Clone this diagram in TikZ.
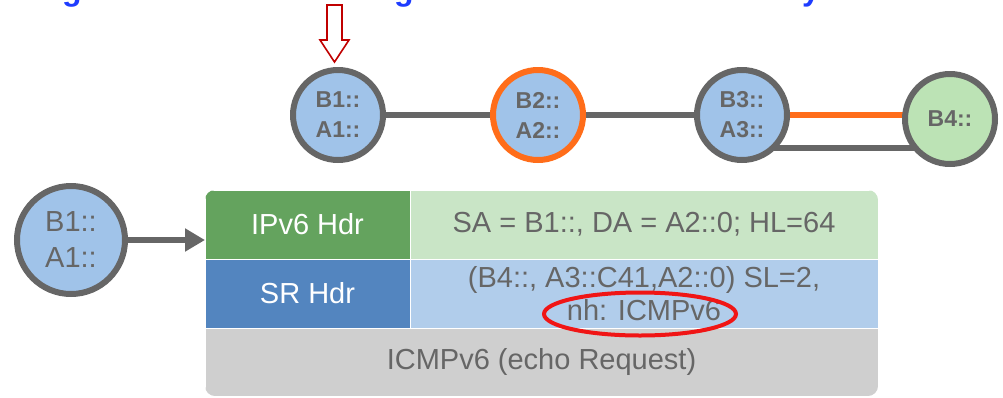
\documentclass[tikz,border=0pt]{standalone}
\usepackage{fontspec}
\setmainfont{Liberation Sans}
\usetikzlibrary{arrows.meta,backgrounds,calc,shapes.geometric}
\definecolor{txtgray}{HTML}{666666}
\definecolor{linkgray}{HTML}{666666}
\definecolor{nodeblue}{HTML}{A0C3E9}
\definecolor{nodegreen}{HTML}{BCE3B5}
\definecolor{linkorange}{HTML}{FF6D1A}
\definecolor{dgreen}{HTML}{64A35E}
\definecolor{lgreen}{HTML}{C9E5C6}
\definecolor{dblue}{HTML}{5385BF}
\definecolor{lblue}{HTML}{B1CDEB}
\definecolor{cgray}{HTML}{CFCFCF}
\definecolor{titleblue}{HTML}{1E3CFF}
\definecolor{darkred}{HTML}{C00000}
\definecolor{markred}{HTML}{F01515}
\begin{document}
\begin{tikzpicture}[x=1pt,y=-1pt,
  topnode/.style={circle, draw=linkgray, line width=6pt, fill=nodeblue, minimum size=90pt, inner sep=0pt,
    font=\fontsize{23}{30}\selectfont\bfseries, text=txtgray, align=center},
  srcnode/.style={circle, draw=linkgray, line width=6pt, fill=nodeblue, minimum size=108pt, inner sep=0pt,
    font=\fontsize{29}{36}\selectfont, text=txtgray, align=center},
  link/.style={draw=linkgray, line width=6pt},
  olink/.style={draw=linkorange, line width=6pt},
  cell/.style={rectangle, draw=white, line width=1pt, inner sep=0pt, outer sep=0pt,
    font=\fontsize{29}{33}\selectfont, text=txtgray, align=center},
  titletxt/.style={anchor=base, inner sep=0pt, text=titleblue, font=\fontsize{32}{36}\selectfont\bfseries}]
\useasboundingbox (0,0) rectangle (1003,397);

% cut-off title fragments
\node[titletxt] (t1) at (72,0.5) {g};
\node[titletxt] (t2) at (404,0.5) {g};
\node[titletxt] (t3) at (811,0.5) {y};

% top topology
\node[topnode] (b1) at (338,115) {B1::\\A1::};
\node[topnode, draw=linkorange] (b2) at (538,115) {B2::\\A2::};
\node[topnode] (b3) at (742,115) {B3::\\A3::};
\node[topnode, fill=nodegreen] (b4) at (950,119) {B4::};
\coordinate (lo3) at ($(b3.center)+(0,33)$);
\begin{pgfonlayer}{background}
  \draw[link] (b1) -- (b2);
  \draw[link] (b2) -- (b3);
  \draw[olink] (b3.center) -- (b3.center -| b4.center);
  \draw[link] (lo3) -- (lo3 -| b4.center);
\end{pgfonlayer}

% hollow red arrow
\draw[darkred, line width=1.6pt, fill=white, line join=miter]
  (327,5) -- (342,5) -- (342,40) -- (349,40) -- (334.5,62) -- (320,40) -- (327,40) -- cycle;

% packet
\begin{scope}
  \clip[rounded corners=10pt] (205,190) rectangle (878,396);
  \node[cell, fill=dgreen, text=white, minimum width=205pt, minimum height=69pt] (ipv6) at (307.5,224.5) {IPv6 Hdr};
  \node[cell, fill=lgreen, minimum width=468pt, minimum height=69pt] (ipv6f) at (644,224.5) {SA = B1::, DA = A2::0; HL=64};
  \node[cell, fill=dblue, text=white, minimum width=205pt, minimum height=69pt] (srh) at (307.5,293.5) {SR Hdr};
  \node[cell, fill=lblue, minimum width=468pt, minimum height=69pt] (srhf) at (644,293.5) {(B4::, A3::C41,A2::0) SL=2,\\nh: ICMPv6};
  \node[cell, fill=cgray, minimum width=673pt, minimum height=68pt] (icmp) at (541.5,362) {ICMPv6 (echo Request)};
\end{scope}

\node[ellipse, draw=markred, line width=4pt, minimum width=192pt, minimum height=43pt, inner sep=0pt] (nh) at (640,314) {};

% source node and arrow
\node[srcnode] (src) at (71,240) {B1::\\A1::};
\draw[link, -{Triangle[length=20pt,width=22pt]}] (src.east) -- (src.east -| ipv6.west);
\end{tikzpicture}
\end{document}
